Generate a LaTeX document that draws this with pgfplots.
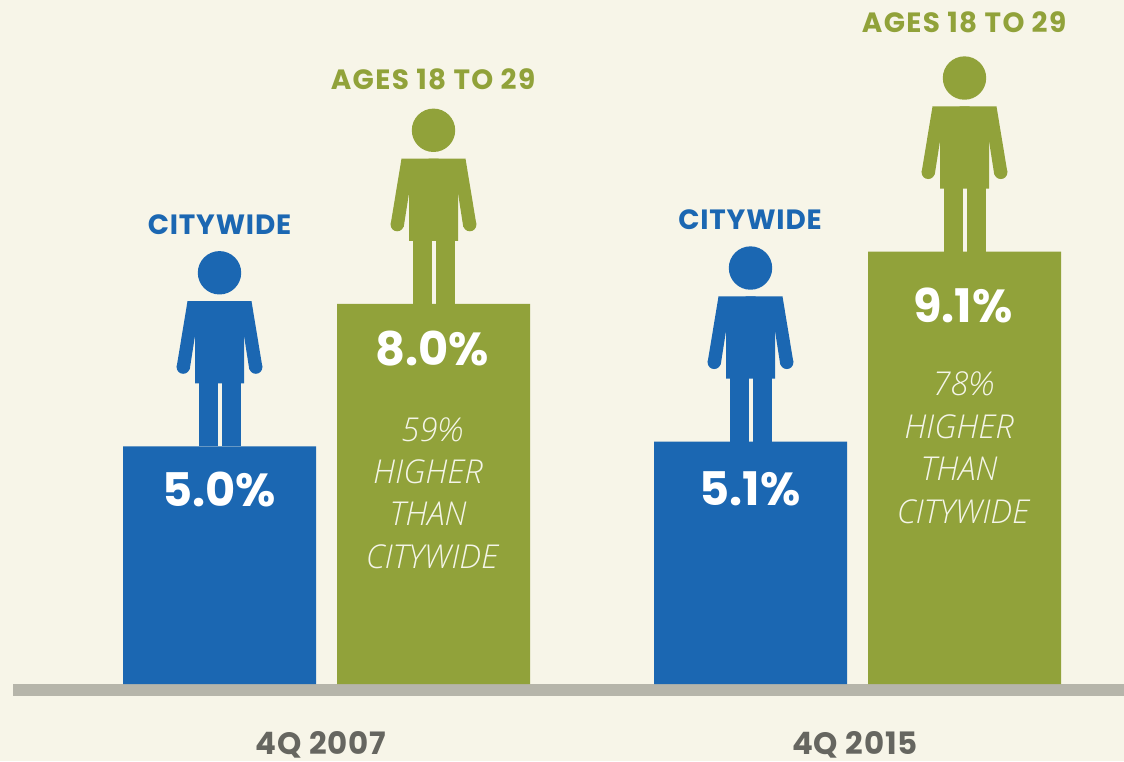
\documentclass[border=0pt]{standalone}
\usepackage{pgfplots}
\pgfplotsset{compat=1.18}
\usepackage{fontspec}
\setmainfont{Poppins}
\newfontfamily\lightit{Open Sans Light}
\newfontfamily\headfont[LetterSpace=3]{Poppins}
\newfontfamily\agefont[LetterSpace=5]{Poppins}
\newfontfamily\labfont[LetterSpace=3]{Poppins}
\definecolor{bg}{HTML}{F7F5E8}
\definecolor{cblue}{HTML}{1B67B2}
\definecolor{cgreen}{HTML}{91A23A}
\definecolor{cgrey}{HTML}{B6B5AA}
\definecolor{ctext}{HTML}{666660}
\definecolor{citalic}{HTML}{F4F5E8}
\newcommand{\ppt}[2]{\pgfpoint{#1bp}{#2bp}}
\pgfdeclareplotmark{person}{%
  \pgfpathcircle{\ppt{0}{173.7}}{21.7bp}\pgfusepathqfill
  \pgfpathcircle{\ppt{-36.3}{79.3}}{6.6bp}\pgfusepathqfill
  \pgfpathcircle{\ppt{36.3}{79.3}}{6.6bp}\pgfusepathqfill
  \pgfpathrectangle{\ppt{-21}{0}}{\ppt{19}{70}}\pgfusepathqfill
  \pgfpathrectangle{\ppt{2}{0}}{\ppt{19}{70}}\pgfusepathqfill
  \begin{pgfscope}
  \pgfsetcornersarced{\pgfpoint{4bp}{4bp}}
  \pgfpathmoveto{\ppt{0}{63}}
  \pgfpathlineto{\ppt{24.5}{63}}
  \pgfpathlineto{\ppt{24.5}{120}}
  \pgfsetcornersarced{\pgfpointorigin}
  \pgfpathlineto{\ppt{24.5}{130}}
  \pgfpathlineto{\ppt{-24.5}{130}}
  \pgfsetcornersarced{\pgfpoint{4bp}{4bp}}
  \pgfpathlineto{\ppt{-24.5}{63}}
  \pgfsetcornersarced{\pgfpointorigin}
  \pgfpathlineto{\ppt{0}{63}}
  \pgfpathclose
  \pgfusepathqfill
  \pgfpathmoveto{\ppt{5}{145.3}}
  \pgfsetcornersarced{\pgfpoint{8bp}{8bp}}
  \pgfpathlineto{\ppt{-32}{145.3}}
  \pgfpathlineto{\ppt{-42.8}{80}}
  \pgfsetcornersarced{\pgfpointorigin}
  \pgfpathlineto{\ppt{-29.8}{77}}
  \pgfpathlineto{\ppt{-24}{114}}
  \pgfpathlineto{\ppt{5}{114}}
  \pgfpathclose
  \pgfusepathqfill
  \pgfpathmoveto{\ppt{-5}{145.3}}
  \pgfsetcornersarced{\pgfpoint{8bp}{8bp}}
  \pgfpathlineto{\ppt{32}{145.3}}
  \pgfpathlineto{\ppt{42.8}{80}}
  \pgfsetcornersarced{\pgfpointorigin}
  \pgfpathlineto{\ppt{29.8}{77}}
  \pgfpathlineto{\ppt{24}{114}}
  \pgfpathlineto{\ppt{-5}{114}}
  \pgfpathclose
  \pgfusepathqfill
  \end{pgfscope}
}
\tikzset{
  head/.style={font=\fontsize{28}{28}\selectfont\headfont\bfseries},
  age/.style={font=\fontsize{28}{28}\selectfont\agefont\bfseries},
  lab/.style={font=\fontsize{31}{31}\selectfont\labfont\bfseries},
  val/.style={text=white, font=\fontsize{46.5}{46.5}\selectfont\bfseries},
  ital/.style={text=citalic, font=\fontsize{33}{33}\selectfont\lightit\itshape},
}
\begin{document}
\begin{tikzpicture}
\begin{axis}[
  scale only axis, width=1124bp, height=761bp,
  xmin=0, xmax=1124, ymin=-1.6211, ymax=14.4,
  axis line style={draw=none}, ticks=none, clip=false,
  axis background/.style={fill=bg},
  every node/.append style={inner sep=0pt, outer sep=0pt, align=center},
]
\addplot[fill=cgrey, draw=none, line width=0pt, forget plot] coordinates {(13,0) (1124,0) (1124,-0.2526) (13,-0.2526)} --cycle;
\addplot[ybar, bar width=193bp, bar shift=0pt, fill=cblue, draw=none] coordinates {(219.5,5.0) (750.5,5.1)};
\addplot[ybar, bar width=193bp, bar shift=0pt, fill=cgreen, draw=none] coordinates {(433.5,8.0) (964.5,9.1)};
\addplot[only marks, mark=person, color=cblue, mark options={fill=cblue, draw=none}] coordinates {(219.5,5.0) (750.5,5.1)};
\addplot[only marks, mark=person, color=cgreen, mark options={fill=cgreen, draw=none}] coordinates {(433.5,8.0) (964.5,9.1)};
\node[head, text=cblue] at (axis cs:219.5,9.663) {CITYWIDE};
\node[head, text=cblue] at (axis cs:750,9.768) {CITYWIDE};
\node[age, text=cgreen] at (axis cs:433,12.737) {AGES 18 TO 29};
\node[age, text=cgreen] at (axis cs:964,13.937) {AGES 18 TO 29};
\node[val] at (axis cs:219,4.105) {5.0\%};
\node[val] at (axis cs:750,4.105) {5.1\%};
\node[val] at (axis cs:432,7.053) {8.0\%};
\node[val] at (axis cs:963,7.979) {9.1\%};
\node[ital] at (axis cs:432,5.347) {59\%};
\node[ital] at (axis cs:428,4.463) {HIGHER};
\node[ital] at (axis cs:428,3.579) {THAN};
\node[ital] at (axis cs:432,2.674) {CITYWIDE};
\node[ital] at (axis cs:963,6.316) {78\%};
\node[ital] at (axis cs:959,5.411) {HIGHER};
\node[ital] at (axis cs:959,4.526) {THAN};
\node[ital] at (axis cs:963,3.621) {CITYWIDE};
\node[lab, text=ctext] at (axis cs:321,-1.284) {4Q 2007};
\node[lab, text=ctext] at (axis cs:855,-1.284) {4Q 2015};
\end{axis}
\end{tikzpicture}
\end{document}
